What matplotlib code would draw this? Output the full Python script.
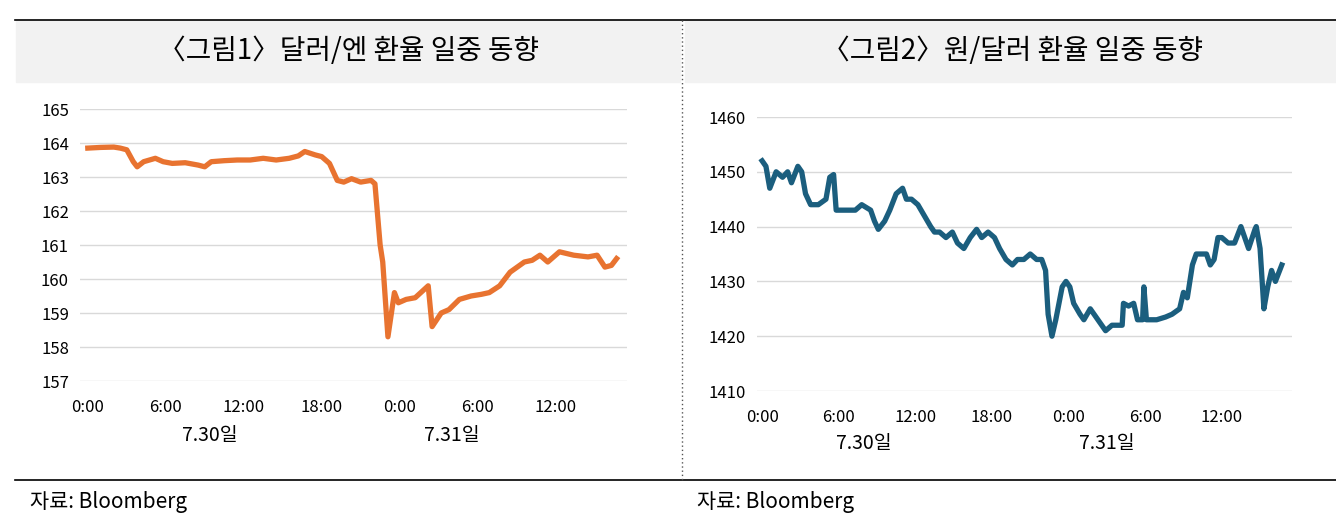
import matplotlib
matplotlib.use("Agg")
import matplotlib.pyplot as plt
from matplotlib.patches import Rectangle
from matplotlib.lines import Line2D

plt.rcParams['font.family'] = ['Noto Sans CJK KR', 'DejaVu Sans']

jpy_h = [0,1,2,2.5,3,3.5,3.8,4.3,5.2,5.8,6.5,7.5,8.5,9,9.5,10.5,11.5,12.5,13.5,14.5,15.5,16.2,16.7,17.5,18.0,18.6,19.2,19.7,20.3,21,21.8,22.1,22.5,22.7,23.1,23.6,23.9,24.5,25.2,26.2,26.5,27.2,27.8,28.6,29.5,30.3,30.9,31.7,32.5,33.6,34.2,34.8,35.4,36.3,37.4,38.5,39.2,39.8,40.3,40.7]
jpy_v = [163.85,163.87,163.88,163.85,163.8,163.45,163.3,163.45,163.55,163.45,163.4,163.42,163.35,163.3,163.45,163.48,163.5,163.5,163.55,163.5,163.55,163.62,163.75,163.65,163.6,163.4,162.9,162.85,162.95,162.85,162.9,162.8,161.0,160.5,158.3,159.6,159.3,159.4,159.45,159.8,158.6,159.0,159.1,159.4,159.5,159.55,159.6,159.8,160.2,160.5,160.55,160.7,160.5,160.8,160.7,160.65,160.7,160.35,160.4,160.6]

krw_h = [0,0.3,0.6,1.1,1.6,2.0,2.3,2.8,3.1,3.4,3.8,4.4,5.0,5.3,5.6,5.8,6.5,7.3,7.8,8.5,8.8,9.1,9.6,10.0,10.5,11.0,11.3,11.7,12.2,12.7,13.2,13.5,13.9,14.4,14.9,15.3,15.8,16.3,16.8,17.2,17.7,18.2,18.6,19.1,19.6,20.0,20.5,21.0,21.5,21.9,22.2,22.4,22.7,23.0,23.5,23.8,24.1,24.4,24.9,25.2,25.7,26.0,26.3,26.6,26.9,27.4,27.9,28.2,28.3,28.7,29.1,29.4,29.8,29.9,30.1,30.9,31.6,32.1,32.7,33.0,33.3,33.7,34.0,34.5,34.8,35.1,35.4,35.7,36.0,36.5,37.0,37.5,37.8,38.1,38.6,38.7,39.0,39.3,39.6,39.9,40.2,40.7]
krw_v = [1452,1451,1447,1450,1449,1450,1448,1451,1450,1446,1444,1444,1445,1449,1449.5,1443,1443,1443,1444,1443,1441,1439.5,1441,1443,1446,1447,1445,1445,1444,1442,1440,1439,1439,1438,1439,1437,1436,1438,1439.5,1438,1439,1438,1436,1434,1433,1434,1434,1435,1434,1434,1432,1424,1420,1423,1429,1430,1429,1426,1424,1423,1425,1424,1423,1422,1421,1422,1422,1422,1426,1425.5,1426,1423,1423,1429,1423,1423,1423.5,1424,1425,1428,1427,1433,1435,1435,1435,1433,1434,1438,1438,1437,1437,1440,1438,1436,1439.5,1440,1436,1425,1429,1432,1430,1433]

xticks = [0, 6, 12, 18, 24, 30, 36]
xlabels = ["0:00", "6:00", "12:00", "18:00", "0:00", "6:00", "12:00"]
titles = ["〈그림1〉달러/엔 환율 일중 동향", "〈그림2〉원/달러 환율 일중 동향"]
dates = ["7.30일", "7.31일"]
source = "자료: Bloomberg"

W, H = 1336, 531
fig = plt.figure(figsize=(W/100, H/100), dpi=100)

def fx(x): return x / W
def fy(y): return 1 - y / H

fig.add_artist(Line2D([fx(15), fx(1336)], [fy(20), fy(20)], color='black', lw=1.2))
fig.add_artist(Line2D([fx(15), fx(1336)], [fy(480), fy(480)], color='black', lw=1.2))
fig.add_artist(Line2D([fx(682), fx(682)], [fy(20), fy(480)], color='#555555', lw=1, ls=(0, (1, 2))))
fig.add_artist(Rectangle((fx(16), fy(82)), fx(664), (62)/H, color='#F2F2F2', zorder=0))
fig.add_artist(Rectangle((fx(685), fy(82)), fx(651), (62)/H, color='#F2F2F2', zorder=0))
fig.text(fx(348), fy(51), titles[0], ha='center', va='center', fontsize=20)
fig.text(fx(1012), fy(51), titles[1], ha='center', va='center', fontsize=20)
fig.text(fx(30), fy(502), source, ha='left', va='center', fontsize=15)
fig.text(fx(697), fy(502), source, ha='left', va='center', fontsize=15)

def setup(ax, ylim, yticks, color, h, v, xlim):
    ax.plot(h, v, color=color, lw=3.8, solid_joinstyle='round')
    ax.set_xlim(*xlim)
    ax.set_ylim(*ylim)
    ax.set_yticks(yticks)
    ax.set_xticks(xticks)
    ax.set_xticklabels(xlabels)
    ax.grid(axis='y', color='#D9D9D9', lw=1)
    ax.set_axisbelow(True)
    for s in ax.spines.values():
        s.set_visible(False)
    ax.tick_params(length=0, labelsize=12, pad=13)
    ax.tick_params(axis='y', pad=8)

ax1 = fig.add_axes([fx(80), fy(381), fx(547), 272/H])
setup(ax1, (157, 165), range(157, 166), '#E87330', jpy_h, jpy_v, (-0.6, 41.5))
ax1.text(9.4, -0.2, dates[0], transform=ax1.get_xaxis_transform(), ha='center', va='center', fontsize=14)
ax1.text(28, -0.2, dates[1], transform=ax1.get_xaxis_transform(), ha='center', va='center', fontsize=14)

ax2 = fig.add_axes([fx(757), fy(391), fx(535), 274/H])
setup(ax2, (1410, 1460), range(1410, 1461, 10), '#1B5E7E', krw_h, krw_v, (-0.4, 41.5))
ax2.text(8.0, -0.19, dates[0], transform=ax2.get_xaxis_transform(), ha='center', va='center', fontsize=14)
ax2.text(27, -0.19, dates[1], transform=ax2.get_xaxis_transform(), ha='center', va='center', fontsize=14)

fig.savefig("out.png", dpi=100)
